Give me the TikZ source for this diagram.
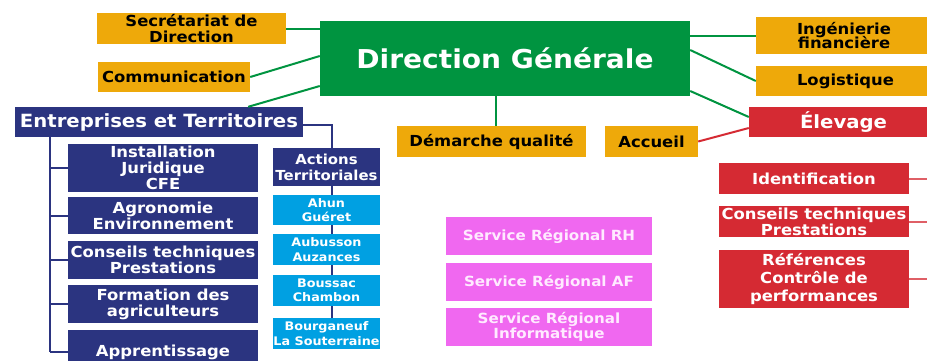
\documentclass[tikz,border=0pt]{standalone}
\usepackage{fontspec}
\setmainfont{DejaVu Sans}[FakeStretch=1.08]
\usetikzlibrary{positioning}
\tikzstyle{orgChart} = [x = 1pt, y = -1pt]
\definecolor{dirGreen}{RGB}{0,148,64}
\definecolor{staffOrange}{RGB}{238,169,10}
\definecolor{entNavy}{RGB}{43,52,128}
\definecolor{elevRed}{RGB}{213,42,51}
\definecolor{siteBlue}{RGB}{0,160,226}
\definecolor{regPink}{RGB}{240,104,240}
\definecolor{regText}{RGB}{255,234,255}
\tikzstyle{unitStyle} = [rectangle, inner sep=0pt, align=center]
\tikzstyle{dirStyle} = [unitStyle, fill=dirGreen, text=white, font=\bfseries\fontsize{26}{28}\selectfont]
\tikzstyle{staffStyle} = [unitStyle, fill=staffOrange, text=black, font=\bfseries\fontsize{15.2}{15.5}\selectfont]
\tikzstyle{entStyle} = [unitStyle, fill=entNavy, text=white, font=\bfseries\fontsize{18.2}{19}\selectfont]
\tikzstyle{entSubStyle} = [unitStyle, fill=entNavy, text=white, font=\bfseries\fontsize{15.2}{16}\selectfont]
\tikzstyle{actStyle} = [unitStyle, fill=entNavy, text=white, font=\bfseries\fontsize{13.8}{16}\selectfont]
\tikzstyle{siteStyle} = [unitStyle, fill=siteBlue, text=white, font=\bfseries\fontsize{11.8}{14.5}\selectfont]
\tikzstyle{regStyle} = [unitStyle, fill=regPink, text=regText, font=\bfseries\fontsize{14}{15}\selectfont]
\tikzstyle{elevStyle} = [unitStyle, fill=elevRed, text=white, font=\bfseries\fontsize{18.2}{19}\selectfont]
\tikzstyle{elevSubStyle} = [unitStyle, fill=elevRed, text=white, font=\bfseries\fontsize{15.2}{14}\selectfont]
\tikzstyle{dirLine} = [color=dirGreen, line width=2pt]
\tikzstyle{entLine} = [color=entNavy, line width=2pt]
\tikzstyle{elevLine} = [color=elevRed, line width=2pt]
\tikzstyle{elevSubLine} = [color=elevRed!75, line width=2pt]
\newcommand{\unitBox}[7]{\node [#1, minimum width={#5 - #3}, minimum height={#6 - #4}] (#2) at ({(#3 + #5) / 2}, {(#4 + #6) / 2}) {#7};}
\begin{document}
\begin{tikzpicture}[orgChart]
    \useasboundingbox (0, 0) rectangle (927, 360);
    \coordinate (entSpine) at (50, 0);
    \coordinate (actSpine) at (332, 0);
    \coordinate (rightEdge) at (927, 0);
    \unitBox{dirStyle}{dg}{320}{21}{690}{96}{Direction Générale}
    \unitBox{staffStyle}{sec}{97}{13}{286}{44}{Secrétariat de\\Direction}
    \unitBox{staffStyle}{com}{98}{62}{250}{92}{Communication}
    \unitBox{entStyle}{ent}{15}{107}{303}{137}{Entreprises et Territoires}
    \unitBox{staffStyle}{qual}{397}{126}{586}{157}{Démarche qualité}
    \unitBox{staffStyle}{acc}{605}{126}{698}{157}{Accueil}
    \unitBox{staffStyle}{ing}{756}{17}{932}{54}{Ingénierie\\[-1.5pt]financière}
    \unitBox{staffStyle}{log}{756}{66}{935}{96}{Logistique}
    \unitBox{elevStyle}{elev}{749}{107}{938}{137}{Élevage}
    \unitBox{elevSubStyle}{ident}{719}{163}{909}{194}{Identification}
    \unitBox{elevSubStyle}{elcons}{719}{206}{909}{237}{Conseils techniques\\Prestations}
    \unitBox{elevSubStyle}{refs}{719}{250}{909}{308}{Références\\[4pt]Contrôle de\\[4pt]performances}
    \unitBox{entSubStyle}{inst}{68}{144}{258}{192}{Installation\\Juridique\\CFE}
    \unitBox{entSubStyle}{agro}{68}{197}{258}{234}{Agronomie\\Environnement}
    \unitBox{entSubStyle}{cons}{68}{241}{258}{279}{Conseils techniques\\Prestations}
    \unitBox{entSubStyle}{form}{68}{285}{258}{323}{Formation des\\agriculteurs}
    \unitBox{entSubStyle}{appr}{68}{330}{258}{374}{Apprentissage}
    \unitBox{actStyle}{act}{273}{148}{380}{186}{Actions\\Territoriales}
    \unitBox{siteStyle}{ahun}{273}{195}{380}{225}{Ahun\\Guéret}
    \unitBox{siteStyle}{aub}{273}{234}{380}{265}{Aubusson\\Auzances}
    \unitBox{siteStyle}{bous}{273}{275}{380}{306}{Boussac\\Chambon}
    \unitBox{siteStyle}{bourg}{273}{318}{380}{349}{Bourganeuf\\La Souterraine}
    \unitBox{regStyle}{rh}{446}{217}{652}{255}{Service Régional RH}
    \unitBox{regStyle}{af}{446}{263}{652}{301}{Service Régional AF}
    \unitBox{regStyle}{info}{446}{308}{652}{346}{Service Régional\\Informatique}
    \draw [dirLine] (sec.east) -- (sec.east -| dg.west);
    \draw [dirLine] (com.east) -- ([yshift=2.5pt]dg.west);
    \draw [dirLine] ([xshift=-55pt]ent.north east) -- ([yshift=-27.5pt]dg.west);
    \draw [dirLine] ([xshift=4.5pt]qual.north) -- ([xshift=4.5pt]qual.north |- dg.south);
    \draw [dirLine] (ing.west) -- (ing.west -| dg.east);
    \draw [dirLine] ([yshift=8.5pt]dg.east) -- (log.west);
    \draw [dirLine] ([yshift=-32.5pt]dg.east) -- ([yshift=5pt]elev.west);
    \draw [elevLine] (acc.east) -- ([yshift=-6pt]elev.west);
    \foreach \unit in {ident, elcons, refs}
      \draw [elevSubLine] (\unit.east) -- (\unit.east -| rightEdge);
    \draw [entLine] (ent.south -| entSpine) -- (appr.west -| entSpine);
    \foreach \unit in {inst, agro, cons, form, appr}
      \draw [entLine] (\unit.west -| entSpine) -- (\unit.west);
    \draw [entLine] ([yshift=-3pt]ent.east) -| (act.north -| actSpine);
    \foreach \upper/\lower in {act/ahun, ahun/aub, aub/bous, bous/bourg}
      \draw [entLine] (\upper.south -| actSpine) -- (\lower.north -| actSpine);
\end{tikzpicture}
\end{document}
